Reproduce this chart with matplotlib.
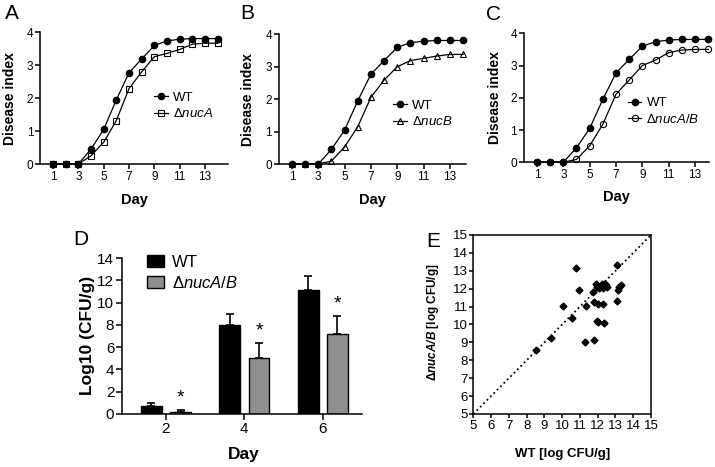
import matplotlib
matplotlib.use("Agg")
import matplotlib.pyplot as plt
from matplotlib.patches import Patch

plt.rcParams['font.family'] = ['Liberation Sans', 'DejaVu Sans']
plt.rcParams['mathtext.fontset'] = 'custom'
plt.rcParams['mathtext.rm'] = 'Liberation Sans'
plt.rcParams['mathtext.it'] = 'Liberation Sans:italic'
plt.rcParams['mathtext.bf'] = 'Liberation Sans:bold'
plt.rcParams['mathtext.bfit'] = 'Liberation Sans:italic:bold'

# disease index over time
days = [1, 2, 3, 4, 5, 6, 7, 8, 9, 10, 11, 12, 13, 14]
wt = [0, 0, 0, 0.45, 1.05, 1.95, 2.77, 3.19, 3.6, 3.74, 3.79, 3.81, 3.81, 3.81]
nucA = [0, 0, 0, 0.25, 0.66, 1.32, 2.29, 2.8, 3.26, 3.36, 3.48, 3.64, 3.67, 3.67]
nucB = [0, 0, 0, 0.09, 0.53, 1.15, 2.06, 2.59, 3.0, 3.19, 3.26, 3.33, 3.38, 3.38]
nucAB = [0, 0, 0, 0.09, 0.51, 1.18, 2.11, 2.55, 3.0, 3.17, 3.4, 3.48, 3.5, 3.5]

# bacterial load (panel D)
cfu_days = ['2', '4', '6']
wt_cfu = [0.7, 8.0, 11.1]
wt_err = [0.3, 1.0, 1.3]
ab_cfu = [0.2, 5.0, 7.2]
ab_err = [0.2, 1.4, 1.6]

# per-plant comparison (panel E)
wt_log = [8.53, 9.36, 10.03, 10.58, 10.76, 10.93, 11.34, 11.29, 11.79, 11.81,
          12.0, 12.32, 11.94, 12.03, 12.37, 11.72, 11.9, 11.98, 12.13, 12.28,
          12.41, 12.5, 12.32, 12.09, 13.07, 13.09, 13.2, 13.29, 13.12, 12.23, 12.45]
ab_log = [8.57, 9.26, 11.06, 10.39, 13.18, 11.95, 11.06, 9.02, 9.11, 11.25,
          11.17, 11.17, 10.2, 10.13, 10.08, 11.79, 12.29, 12.07, 12.1, 12.19,
          12.29, 12.1, 12.03, 12.03, 13.35, 11.3, 12.1, 12.19, 11.95, 12.29, 12.2]

fig = plt.figure(figsize=(7.15, 4.67), dpi=100)

panels = [
    ([0.0564, 0.6488, 0.2622, 0.282], 14.8, nucA, 's', r'Δ$\mathit{nucA}$', (0.609, 0.44), (-0.124, -0.22)),
    ([0.3899, 0.6488, 0.2615, 0.2777], 14.2, nucB, '^', r'Δ$\mathit{nucB}$', (0.613, 0.386), (-0.127, -0.224)),
    ([0.7326, 0.6525, 0.2597, 0.2762], 14.1, nucAB, 'o', r'Δ$\mathit{nucA/B}$', (0.561, 0.394), (-0.117, -0.215)),
]

for rect, xmax, mut, mk, lab, legpos, labpos in panels:
    ax = fig.add_axes(rect)
    ax.plot(days, wt, '-', color='black', lw=0.9, marker='o', ms=4.5,
            label='WT', clip_on=False, zorder=3)
    ax.plot(days, mut, '-', color='black', lw=0.9, marker=mk, ms=4.5,
            mfc='none', mew=0.8, label=lab, clip_on=False, zorder=3)
    ax.set_xlim(0, xmax)
    ax.set_ylim(0, 4)
    ax.set_xticks([1, 3, 5, 7, 9, 11, 13])
    ax.set_yticks([0, 1, 2, 3, 4])
    for s in ['top', 'right']:
        ax.spines[s].set_visible(False)
    for s in ['left', 'bottom']:
        ax.spines[s].set_linewidth(1.1)
    ax.tick_params(labelsize=8.5, width=1.1, length=3.5, pad=1.5)
    ax.set_ylabel('Disease index', fontsize=10, fontweight='bold')
    ax.set_xlabel('Day', fontsize=10.5, fontweight='bold')
    ax.yaxis.set_label_coords(labpos[0], 0.5)
    ax.xaxis.set_label_coords(0.5, labpos[1])
    ax.legend(loc='center left', bbox_to_anchor=legpos, frameon=False,
              fontsize=9.5, borderpad=0, borderaxespad=0, handlelength=1.0,
              handletextpad=0.4, labelspacing=0.25)

# panel D
axd = fig.add_axes([0.1706, 0.1135, 0.3357, 0.334])
xpos = [0, 1, 2]
bw = 0.265
off = 0.187
axd.bar([x - off for x in xpos], wt_cfu, bw, color='black', edgecolor='black',
        lw=1, label='WT', zorder=2)
axd.bar([x + off for x in xpos], ab_cfu, bw, color='#8e8e8e', edgecolor='black',
        lw=1, label=r'Δ$\mathit{nucA/B}$', zorder=2)
axd.errorbar([x - off for x in xpos], wt_cfu, yerr=[[0] * 3, wt_err], fmt='none',
             ecolor='black', elinewidth=1.2, capsize=3, capthick=1.2, zorder=1)
axd.errorbar([x + off for x in xpos], ab_cfu, yerr=[[0] * 3, ab_err], fmt='none',
             ecolor='black', elinewidth=1.2, capsize=3, capthick=1.2, zorder=1)
for x, v, e in zip(xpos, ab_cfu, ab_err):
    axd.text(x + off, v + e + 0.3, '*', ha='center', va='bottom', fontsize=14)
axd.set_xlim(-0.56, 2.5)
axd.set_ylim(0, 14)
axd.set_xticks(xpos)
axd.set_xticklabels(cfu_days)
axd.set_yticks(range(0, 15, 2))
for s in ['top', 'right']:
    axd.spines[s].set_visible(False)
for s in ['left', 'bottom']:
    axd.spines[s].set_linewidth(1.1)
axd.tick_params(labelsize=11, width=1.1, length=4, pad=1.5)
axd.set_ylabel('Log10 (CFU/g)', fontsize=12.5, fontweight='bold')
axd.set_xlabel('Day', fontsize=12.5, fontweight='bold')
axd.yaxis.set_label_coords(-0.1125, 0.506)
axd.xaxis.set_label_coords(0.507, -0.21)
handles = [Patch(facecolor='black', edgecolor='black'),
           Patch(facecolor='#8e8e8e', edgecolor='black')]
axd.legend(handles, ['WT', r'Δ$\mathit{nucA/B}$'], loc='center left',
           bbox_to_anchor=(0.104, 0.904), frameon=False, fontsize=12,
           borderpad=0, borderaxespad=0, handlelength=1.0, handleheight=0.7,
           handletextpad=0.5, labelspacing=0.3)

# panel E
axe = fig.add_axes([0.662, 0.1135, 0.2485, 0.3833])
axe.plot([5, 15], [5, 15], ':', color='black', lw=1.3)
axe.plot(wt_log, ab_log, 'D', color='black', ms=3.5, ls='none')
axe.set_xlim(5, 15)
axe.set_ylim(5, 15)
axe.set_xticks(range(5, 16))
axe.set_yticks(range(5, 16))
for s in axe.spines.values():
    s.set_linewidth(1.1)
axe.tick_params(labelsize=9.5, width=1.1, length=3, pad=1)
axe.set_xlabel('WT [log CFU/g]', fontsize=9.5, fontweight='bold')
axe.set_ylabel(r'$\mathbf{Δ}\mathbfit{nucA/B}$ [log CFU/g]', fontsize=8.5,
               fontweight='bold')
axe.xaxis.set_label_coords(0.5, -0.188)
axe.yaxis.set_label_coords(-0.18, 0.514)

# panel letters
for letter, x, y in [('A', 5, 4), ('B', 240, 4), ('C', 486, 5), ('D', 73, 230), ('E', 426, 232)]:
    fig.text(x / 715, 1 - y / 467, letter, fontsize=15, ha='left', va='top')

fig.savefig('out.png', dpi=100)
